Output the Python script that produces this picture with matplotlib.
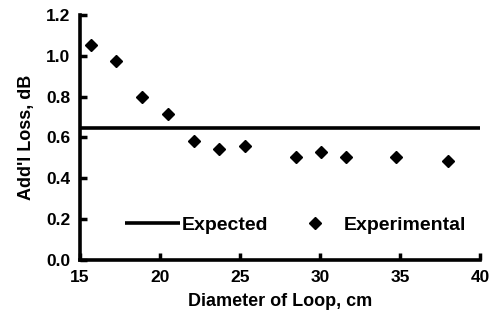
import matplotlib
matplotlib.use("Agg")
import matplotlib.pyplot as plt

diameter_cm = [15.7, 17.25, 18.9, 20.5, 22.1, 23.7, 25.3, 28.5, 30.05, 31.65, 34.75, 38.0]
loss_db = [1.053, 0.975, 0.797, 0.713, 0.584, 0.542, 0.560, 0.506, 0.527, 0.506, 0.506, 0.485]
expected_db = 0.645
x_ticks = [15, 20, 25, 30, 35, 40]
y_ticks = [0.0, 0.2, 0.4, 0.6, 0.8, 1.0, 1.2]

plt.rcParams['font.family'] = ['Liberation Sans', 'DejaVu Sans']
plt.rcParams['font.weight'] = 'bold'

fig = plt.figure(figsize=(4.9, 3.3), dpi=100)
ax = fig.add_axes([0.163, 0.212, 0.817, 0.743])

ax.plot([15, 40], [expected_db, expected_db], color='black', lw=2.6, label='Expected',
        solid_capstyle='butt')
ax.plot(diameter_cm, loss_db, linestyle='none', marker='D', markersize=6.5,
        color='black', label='Experimental')

ax.set_xlim(15, 40)
ax.set_ylim(0, 1.2)
ax.set_xticks(x_ticks)
ax.set_yticks(y_ticks)
ax.set_yticklabels([f"{v:.1f}" for v in y_ticks])
ax.tick_params(direction='in', length=5, width=2.5, labelsize=12.5, pad=7)
for lab in ax.get_xticklabels() + ax.get_yticklabels():
    lab.set_fontweight('bold')

for s in ['top', 'right']:
    ax.spines[s].set_visible(False)
for s in ['left', 'bottom']:
    ax.spines[s].set_linewidth(2.6)

ax.set_xlabel('Diameter of Loop, cm', fontsize=13, fontweight='bold', labelpad=6)
ax.set_ylabel("Add'l Loss, dB", fontsize=13, fontweight='bold', labelpad=8)

leg = ax.legend(loc='lower right', bbox_to_anchor=(1.0, 0.05), ncol=2, frameon=False,
                handlelength=2.8, handletextpad=0.1, columnspacing=1.0,
                borderaxespad=0.3,
                prop={'weight': 'bold', 'size': 14})

fig.savefig('out.png', dpi=100)
